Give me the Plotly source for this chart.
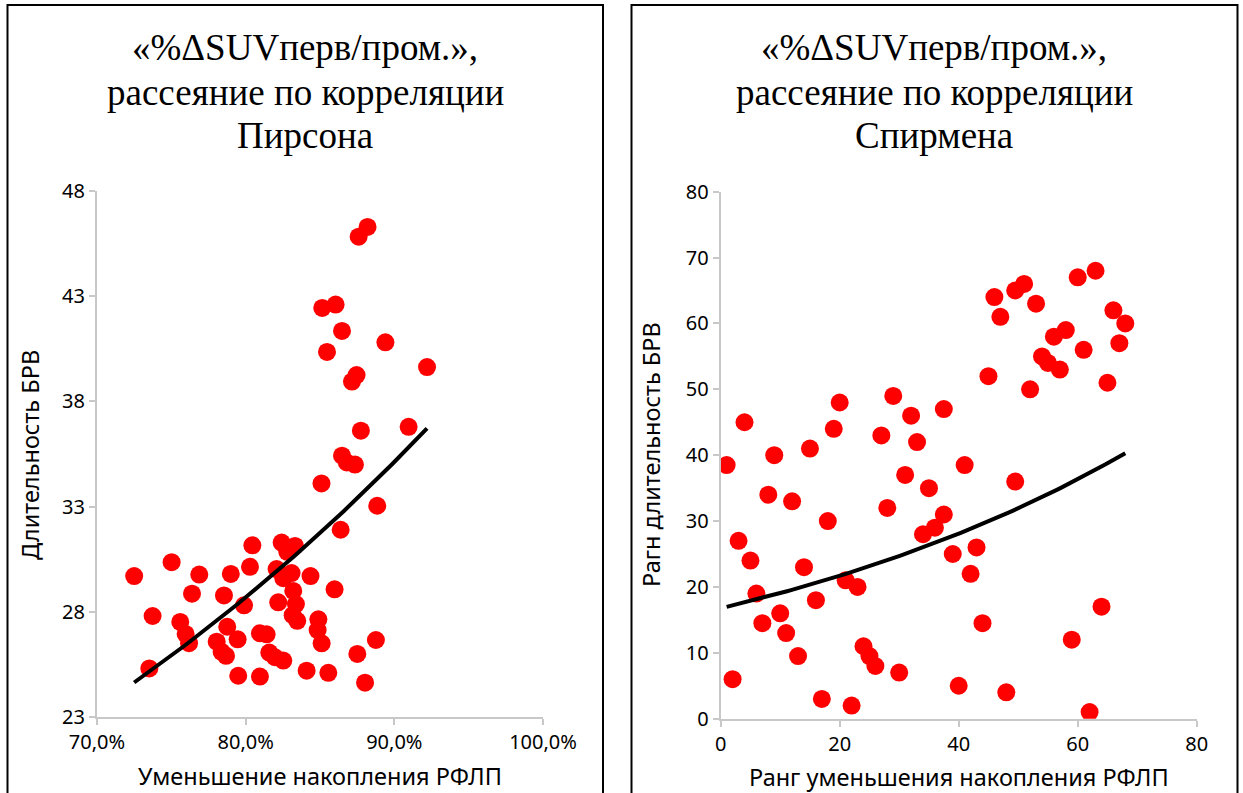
import numpy as np
import plotly.graph_objects as go

# ---- Data: Pearson panel (decrease of RFLP uptake vs BRV duration) ----
pearson_x = [0.725, 0.7352, 0.7374, 0.7502, 0.756, 0.7596, 0.7619, 0.7639, 0.7688, 0.7805,
             0.7838, 0.7854, 0.7868, 0.7876, 0.790, 0.7946, 0.795, 0.7989, 0.8029, 0.8045,
             0.8096, 0.8096, 0.8141, 0.8159, 0.8197, 0.8208, 0.8219, 0.8242, 0.8253, 0.8253,
             0.828, 0.8309, 0.8316, 0.832, 0.8332, 0.8338, 0.8347, 0.841, 0.8436, 0.8484,
             0.8489, 0.8511, 0.851, 0.8515, 0.8547, 0.8556, 0.8598, 0.8605, 0.8639, 0.8648,
             0.8648, 0.868, 0.8715, 0.8735, 0.8746, 0.8751, 0.876, 0.8775, 0.8803, 0.882,
             0.8876, 0.8885, 0.894, 0.9096, 0.922]
pearson_y = [29.7, 25.31, 27.8, 30.36, 27.52, 26.95, 26.51, 28.86, 29.77, 26.58,
             26.1, 28.78, 25.91, 27.29, 29.8, 26.69, 24.96, 28.31, 30.14, 31.16,
             26.98, 24.92, 26.93, 26.06, 25.84, 30.03, 28.45, 31.29, 29.6, 25.68,
             30.85, 29.84, 27.84, 28.99, 31.13, 28.37, 27.57, 25.2, 29.7, 27.13,
             27.64, 26.5, 34.1, 42.44, 40.35, 25.1, 29.07, 42.6, 31.9, 41.35,
             35.42, 35.1, 38.94, 35.0, 39.25, 26.0, 45.83, 36.61, 24.63, 46.29,
             26.66, 33.04, 40.81, 36.79, 39.63]

# ---- Data: Spearman panel (ranks) ----
spearman_x = [1, 2, 3, 4, 5, 6, 7, 8, 9, 10, 11, 12, 13, 14, 15, 16, 17, 18, 19, 20,
              21, 22, 23, 24, 25, 26, 27, 28, 29, 30, 31, 32, 33, 34, 35, 36, 37.5, 37.5,
              39, 40, 41, 42, 43, 44, 45, 46, 47, 48, 49.5, 49.5, 51, 52, 53, 54, 55, 56,
              57, 58, 59, 60, 61, 62, 63, 64, 65, 66, 67, 68]
spearman_y = [38.5, 6, 27, 45, 24, 19, 14.5, 34, 40, 16, 13, 33, 9.5, 23, 41, 18, 3, 30, 44, 48,
              21, 2, 20, 11, 9.5, 8, 43, 32, 49, 7, 37, 46, 42, 28, 35, 29, 47, 31,
              25, 5, 38.5, 22, 26, 14.5, 52, 64, 61, 4, 36, 65, 66, 50, 63, 55, 54, 58,
              53, 59, 12, 67, 56, 1, 68, 17, 51, 62, 57, 60]

title_left = ["«%ΔSUVперв/пром.»,", "рассеяние по корреляции", "Пирсона"]
title_right = ["«%ΔSUVперв/пром.»,", "рассеяние по корреляции", "Спирмена"]
xlabel_left = "Уменьшение накопления РФЛП"
ylabel_left = "Длительность БРВ"
xlabel_right = "Ранг уменьшения накопления РФЛП"
ylabel_right = "Рагн длительность БРВ"


def exp_trend(x, y, n=100):
    x = np.asarray(x, float)
    y = np.asarray(y, float)
    b, ln_a = np.polyfit(x, np.log(y), 1)
    xs = np.linspace(x.min(), x.max(), n)
    return xs, np.exp(ln_a) * np.exp(b * xs)


W, H = 1243, 793
fig = go.Figure()

RED = "#FF0000"
marker = dict(color=RED, size=18, line=dict(width=0))

fig.add_trace(go.Scatter(x=pearson_x, y=pearson_y, mode="markers", marker=marker,
                         xaxis="x", yaxis="y", showlegend=False, hoverinfo="skip"))
tx, ty = exp_trend(pearson_x, pearson_y)
fig.add_trace(go.Scatter(x=tx, y=ty, mode="lines", line=dict(color="black", width=4),
                         xaxis="x", yaxis="y", showlegend=False, hoverinfo="skip"))

fig.add_trace(go.Scatter(x=spearman_x, y=spearman_y, mode="markers", marker=marker,
                         xaxis="x2", yaxis="y2", showlegend=False, hoverinfo="skip"))
tx2, ty2 = exp_trend(spearman_x, spearman_y)
fig.add_trace(go.Scatter(x=tx2, y=ty2, mode="lines", line=dict(color="black", width=4),
                         xaxis="x2", yaxis="y2", showlegend=False, hoverinfo="skip"))

TICKFONT = dict(family="Noto Sans, DejaVu Sans, sans-serif", size=20, color="#000000")
AXCOL = "#C8C8C8"
common_axis = dict(showgrid=False, zeroline=False, showline=True, linecolor=AXCOL, linewidth=2,
                   ticks="outside", ticklen=6, tickcolor=AXCOL, tickwidth=2,
                   tickfont=TICKFONT, fixedrange=True, automargin=False)


def px_x(p):
    return p / W


def px_y(p):
    return 1 - p / H


fig.update_layout(
    template="none",
    width=W, height=H,
    margin=dict(l=0, r=0, t=0, b=0, pad=0),
    paper_bgcolor="white", plot_bgcolor="white",
    separators=", ",
    xaxis=dict(domain=[px_x(97), px_x(543)], range=[0.70, 1.00], tick0=0.70, dtick=0.10,
               tickformat=".1%", anchor="y", **common_axis),
    yaxis=dict(domain=[px_y(717), px_y(191)], range=[23, 48], tick0=23, dtick=5,
               anchor="x", **common_axis),
    xaxis2=dict(domain=[px_x(720.7), px_x(1196.7)], range=[0, 80], tick0=0, dtick=20,
                anchor="y2", **common_axis),
    yaxis2=dict(domain=[px_y(718.7), px_y(191.7)], range=[0, 80], tick0=0, dtick=10,
                anchor="x2", **common_axis),
)

# Panel borders
for x0, x1 in [(7.5, 603), (631.5, 1237.5)]:
    fig.add_shape(type="rect", xref="paper", yref="paper",
                  x0=px_x(x0), x1=px_x(x1), y0=-0.05, y1=px_y(5),
                  line=dict(color="black", width=2), fillcolor="rgba(0,0,0,0)")

TITLEFONT = dict(family="Liberation Serif, Times New Roman, serif", size=37, color="black")
LABELFONT = dict(family="Noto Sans, DejaVu Sans, sans-serif", size=23.5, color="black")

title_line_y = [47, 93, 136]
for cx, lines in [(305, title_left), (934.5, title_right)]:
    for line, ly in zip(lines, title_line_y):
        fig.add_annotation(text=line, x=px_x(cx), y=px_y(ly), xref="paper", yref="paper",
                           showarrow=False, font=TITLEFONT, xanchor="center", yanchor="middle")

fig.add_annotation(text=xlabel_left, x=px_x(320), y=px_y(776), xref="paper", yref="paper",
                   showarrow=False, font=LABELFONT, xanchor="center", yanchor="middle")
fig.add_annotation(text=xlabel_right, x=px_x(958.7), y=px_y(777), xref="paper", yref="paper",
                   showarrow=False, font=LABELFONT, xanchor="center", yanchor="middle")
fig.add_annotation(text=ylabel_left, x=px_x(30), y=px_y(455), xref="paper", yref="paper",
                   showarrow=False, font=LABELFONT, textangle=-90, xanchor="center", yanchor="middle")
fig.add_annotation(text=ylabel_right, x=px_x(651), y=px_y(455), xref="paper", yref="paper",
                   showarrow=False, font=LABELFONT, textangle=-90, xanchor="center", yanchor="middle")

fig.write_html("out.html")
